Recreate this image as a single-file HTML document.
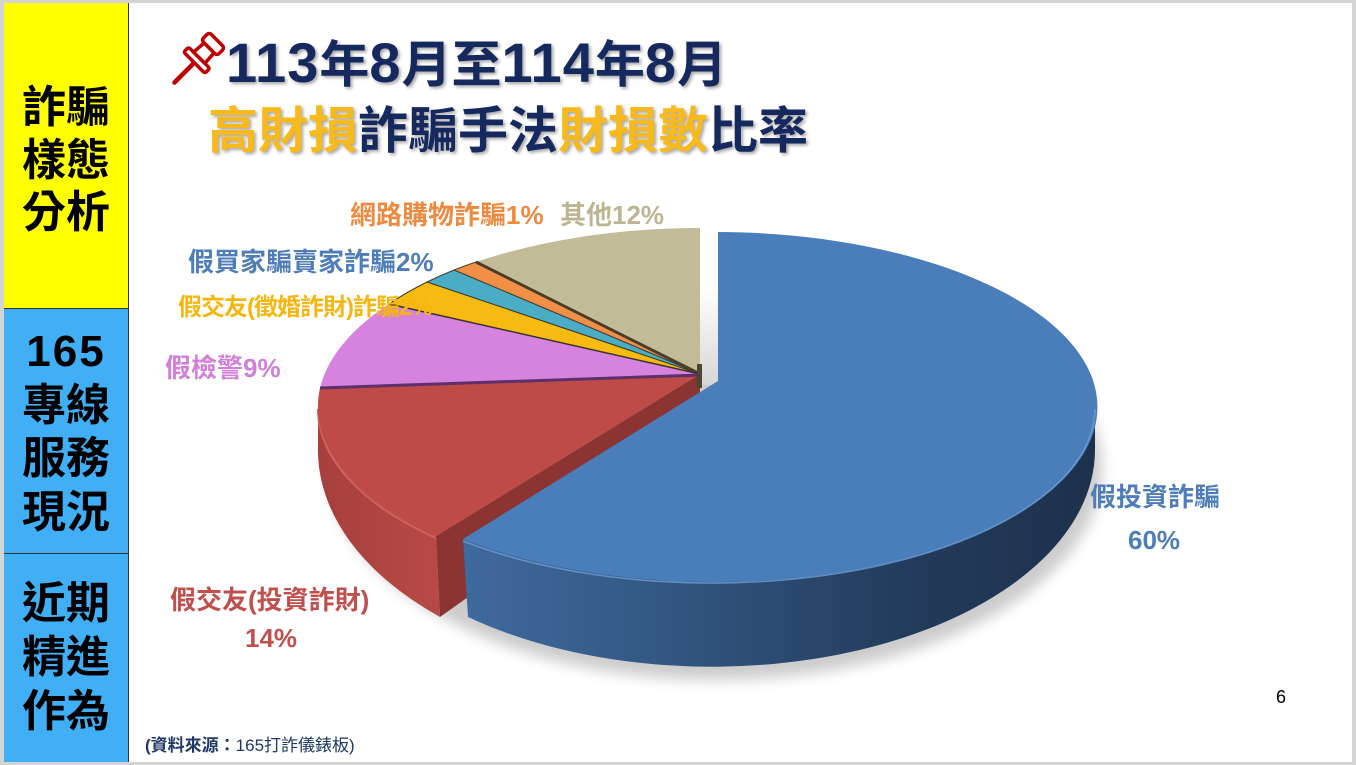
<!DOCTYPE html>
<html><head><meta charset="utf-8"><style>
body{margin:0;width:1356px;height:765px;background:#d4d4d4;position:relative;overflow:hidden;font-family:"Liberation Sans","Noto Sans CJK TC",sans-serif;}
.a{position:absolute;white-space:nowrap;}
.col{position:absolute;left:4px;width:124px;text-align:center;font-weight:bold;font-size:44px;color:#000;}
.lbl{position:absolute;white-space:nowrap;font-weight:bold;font-size:26px;line-height:30px;}
.t{position:absolute;white-space:nowrap;font-weight:bold;font-size:50px;line-height:50px;color:#15295E;text-shadow:2px 2px 3px rgba(0,0,0,0.35);}
.d{font-size:56px;letter-spacing:1px;}
.g{color:#F8B91C;}
</style></head><body>
<div class="a" style="left:4px;top:3px;width:1348px;height:759px;background:#fff;"></div>
<div class="a" style="left:4px;top:3px;width:124px;height:305px;background:#FFFF00;"></div>
<div class="a" style="left:4px;top:308px;width:124px;height:245px;background:#40AFF5;border-top:1px solid #333;box-sizing:border-box;"></div>
<div class="a" style="left:4px;top:553px;width:124px;height:209px;background:#40AFF5;border-top:1px solid #333;box-sizing:border-box;"></div>
<div class="a" style="left:128px;top:3px;width:1px;height:759px;background:#333;"></div>

<div class="col" style="top:82px;line-height:52.5px;">詐騙<br>樣態<br>分析</div>
<div class="col" style="top:325px;line-height:53.7px;"><span style="letter-spacing:2px;">165</span><br>專線<br>服務<br>現況</div>
<div class="col" style="top:577px;line-height:54px;">近期<br>精進<br>作為</div>

<svg class="a" style="left:0;top:0" width="1356" height="765" viewBox="0 0 1356 765">
<defs>
<linearGradient id="bside" x1="463" y1="0" x2="1095" y2="0" gradientUnits="userSpaceOnUse">
<stop offset="0" stop-color="#3F6A9E"/><stop offset="0.35" stop-color="#31557F"/><stop offset="0.7" stop-color="#233B5C"/><stop offset="1" stop-color="#1D314C"/>
</linearGradient>
<linearGradient id="rside" x1="318" y1="0" x2="440" y2="0" gradientUnits="userSpaceOnUse">
<stop offset="0" stop-color="#A6403D"/><stop offset="1" stop-color="#B84946"/>
</linearGradient>
<linearGradient id="gap" x1="0" y1="225" x2="0" y2="385" gradientUnits="userSpaceOnUse">
<stop offset="0" stop-color="#ffffff"/><stop offset="0.4" stop-color="#ffffff"/><stop offset="1" stop-color="#d6d6d6"/>
</linearGradient>
<filter id="blur" x="-20%" y="-20%" width="140%" height="140%"><feGaussianBlur stdDeviation="7"/></filter>
</defs>
<!-- shadow -->
<ellipse cx="716" cy="468" rx="386" ry="212" fill="#000" opacity="0.2" filter="url(#blur)"/>
<!-- gap -->
<rect x="699" y="215" width="20" height="170" fill="url(#gap)"/>
<!-- back slices -->
<path d="M700 374 L700 228 A383 179 0 0 0 476 262 Z" fill="#C2BB98"/>
<path d="M700 374 L476 262 A383 179 0 0 0 454 270 Z" fill="#F08F45" stroke="#4a3f30" stroke-width="1"/>
<path d="M700 374 L454 270 A383 179 0 0 0 427 282 Z" fill="#4BACC6" stroke="#3a3f3a" stroke-width="1"/>
<path d="M700 374 L427 282 A383 179 0 0 0 389 304 Z" fill="#F6BA10" stroke="#3d3a2a" stroke-width="1"/>
<path d="M700 374 L389 304 A383 179 0 0 0 320 388 Z" fill="#D682DF"/>
<!-- red side -->
<path d="M318 407 A383 179 0 0 0 436 536 L440 617 A383 228 0 0 1 318 450 Z" fill="url(#rside)"/>
<path d="M318 409 A383 179 0 0 0 436 538" fill="none" stroke="#D0615C" stroke-width="2"/>
<!-- red radial wall -->
<path d="M700 374 L436 536 L440 617 L700 432 Z" fill="#8C3431"/>
<!-- red top -->
<path d="M700 374 L320 388 A383 179 0 0 0 436 536 Z" fill="#BE4B48"/>
<!-- separators -->
<line x1="700" y1="374" x2="476" y2="262" stroke="#4C3D2B" stroke-width="3"/>
<line x1="700" y1="375" x2="320" y2="388" stroke="#5E2F6A" stroke-width="3"/>
<line x1="700" y1="374" x2="389" y2="304" stroke="#3b3230" stroke-width="1.5"/>
<rect x="697" y="364" width="5" height="24" fill="#4B4631"/>
<!-- blue side -->
<path d="M1095 407 A383 175 0 0 1 463 539 L468 617 A383 217 0 0 0 1095 450 Z" fill="url(#bside)"/>
<!-- blue top -->
<path d="M718 381 L718 232 A383 175 0 1 1 463 539 Z" fill="#4A7EBB"/>
<path d="M1095 409 A383 175 0 0 1 463 541" fill="none" stroke="#6E9DD3" stroke-width="1.6" opacity="0.8"/>
<!-- pin icon -->
<g transform="translate(195,62) rotate(45)" fill="#fff" stroke="#C00000" stroke-width="3.5" stroke-linejoin="round">
<line x1="0" y1="1" x2="0" y2="29" stroke-linecap="round" stroke-width="4.5"/>
<rect x="-15" y="-6" width="30" height="7" rx="2"/>
<path d="M-7 -20 L7 -20 L8 -6 L-8 -6 Z"/>
<rect x="-11" y="-31" width="22" height="11" rx="3"/>
</g>
</svg>

<div class="t" style="left:226px;top:38px;"><span class="d">113</span>年<span class="d">8</span>月至<span class="d">114</span>年<span class="d">8</span>月</div>
<div class="t" style="left:208px;top:106px;"><span class="g">高財損</span>詐騙手法<span class="g">財損數</span>比率</div>

<div class="lbl" style="left:350px;top:200px;color:#EE8A40;">網路購物詐騙1%</div>
<div class="lbl" style="left:560px;top:200px;color:#BBB591;">其他12%</div>
<div class="lbl" style="left:188px;top:247px;color:#4F7DB8;">假買家騙賣家詐騙2%</div>
<div class="lbl" style="left:178px;top:293px;color:#F5B70F;font-size:24px;letter-spacing:-1px;">假交友(徵婚詐財)詐騙2%</div>
<div class="lbl" style="left:165px;top:353px;color:#D17FD9;">假檢警9%</div>
<div class="lbl" style="left:170px;top:585px;color:#C0504D;">假交友(投資詐財)</div>
<div class="lbl" style="left:245px;top:623px;color:#C0504D;">14%</div>
<div class="lbl" style="left:1090px;top:482px;color:#4F7DB8;">假投資詐騙</div>
<div class="lbl" style="left:1128px;top:525px;color:#4F7DB8;">60%</div>

<div class="a" style="left:1276px;top:685px;font-size:18px;line-height:24px;color:#000;">6</div>
<div class="a" style="left:145px;top:735px;font-size:17px;line-height:22px;color:#1F3864;"><b>(資料來源：</b>165打詐儀錶板)</div>
</body></html>
